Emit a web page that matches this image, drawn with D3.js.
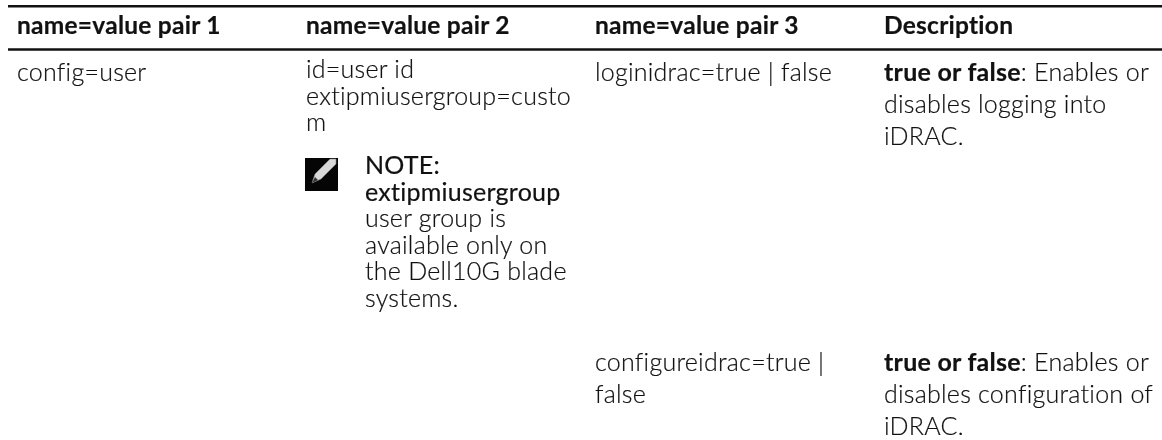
<!DOCTYPE html>
<html>
<head>
<meta charset="utf-8">
<script src="https://cdn.jsdelivr.net/npm/d3@7"></script>
<style>
  html, body { margin: 0; padding: 0; background: #fff; }
  svg { will-change: transform; }
  text { font-family: Lato, "Open Sans", sans-serif; fill: #111; stroke: #111; stroke-width: 0.2px; letter-spacing: 0.25px; }
</style>
</head>
<body>
<div id="plot"></div>
<script>
// table content
const columns = ["name=value pair 1", "name=value pair 2", "name=value pair 3", "Description"];
const col1Lines = ["config=user"];
const col2Lines = ["id=user id", "extipmiusergroup=custo", "m"];
const noteBold = ["NOTE:", "extipmiusergroup"];
const noteLines = ["user group is", "available only on", "the Dell10G blade", "systems."];
const col3Row1 = ["loginidrac=true | false"];
const col3Row2 = ["configureidrac=true |", "false"];
const boldLead = "true or false";
const descRow1 = [": Enables or", "disables logging into", "iDRAC."];
const descRow2 = [": Enables or", "disables configuration of", "iDRAC."];

const width = 1162, height = 440;
const fontSize = 25;
const tightPitch = 26.5, loosePitch = 32;

let svg = d3.select('#plot').append('svg')
  .attr('width', width)
  .attr('height', height)
  .style('display', 'block');

// column positions
let xScale = d3.scalePoint()
  .domain(columns)
  .range([17, 884]);

// header rules
svg.selectAll('line.rule')
  .data([6.2, 49.5])
  .enter()
  .append('line')
    .attr('class', 'rule')
    .attr('x1', 8)
    .attr('x2', width)
    .attr('y1', d => d)
    .attr('y2', d => d)
    .attr('stroke', '#111')
    .attr('stroke-width', 2.5);

svg.selectAll('text.head')
  .data(columns)
  .enter()
  .append('text')
    .attr('class', 'head')
    .attr('x', d => xScale(d))
    .attr('y', 34)
    .attr('font-size', 24.5)
    .attr('font-weight', 700)
    .text(d => d);

// writes a block of lines, one text element each
function block(lines, x, y, pitch, weight) {
  svg.append('g').selectAll('text')
    .data(lines)
    .enter()
    .append('text')
      .attr('x', x)
      .attr('y', (d, i) => y + i * pitch)
      .attr('font-size', fontSize)
      .attr('font-weight', weight || 300)
      .text(d => d);
}

block(col1Lines, xScale(columns[0]), 81, tightPitch);
block(col2Lines, xScale(columns[1]), 78, tightPitch);
block(noteBold, xScale(columns[1]) + 59, 174, tightPitch, 400);
block(noteLines, xScale(columns[1]) + 59, 227, tightPitch);
block(col3Row1, xScale(columns[2]), 81, loosePitch);
block(col3Row2, xScale(columns[2]), 371, loosePitch);

// description: first line starts bold
function desc(lines, y) {
  let x = xScale(columns[3]);
  let t = svg.append('g').selectAll('text')
    .data(lines)
    .enter()
    .append('text')
      .attr('x', x)
      .attr('y', (d, i) => y + i * loosePitch)
      .attr('font-size', fontSize)
      .attr('font-weight', 300);
  t.filter((d, i) => i == 0).append('tspan').attr('font-weight', 700).text(boldLead);
  t.append('tspan').text(d => d);
}
desc(descRow1, 81);
desc(descRow2, 371);

// note icon
let icon = svg.append('g').attr('transform', 'translate(305,158)');
icon.append('rect').attr('width', 33).attr('height', 33).attr('fill', '#050505');
icon.append('path')
  .attr('d', 'M7 25 L10 16 L25 1 L31 1 L31 6 L16 21 Z')
  .attr('fill', '#d8d8d8')
  .attr('stroke', '#888')
  .attr('stroke-width', 0.6);
icon.append('path')
  .attr('d', 'M7 25 L10 19 L13 22 Z')
  .attr('fill', '#333');
</script>
</body>
</html>
